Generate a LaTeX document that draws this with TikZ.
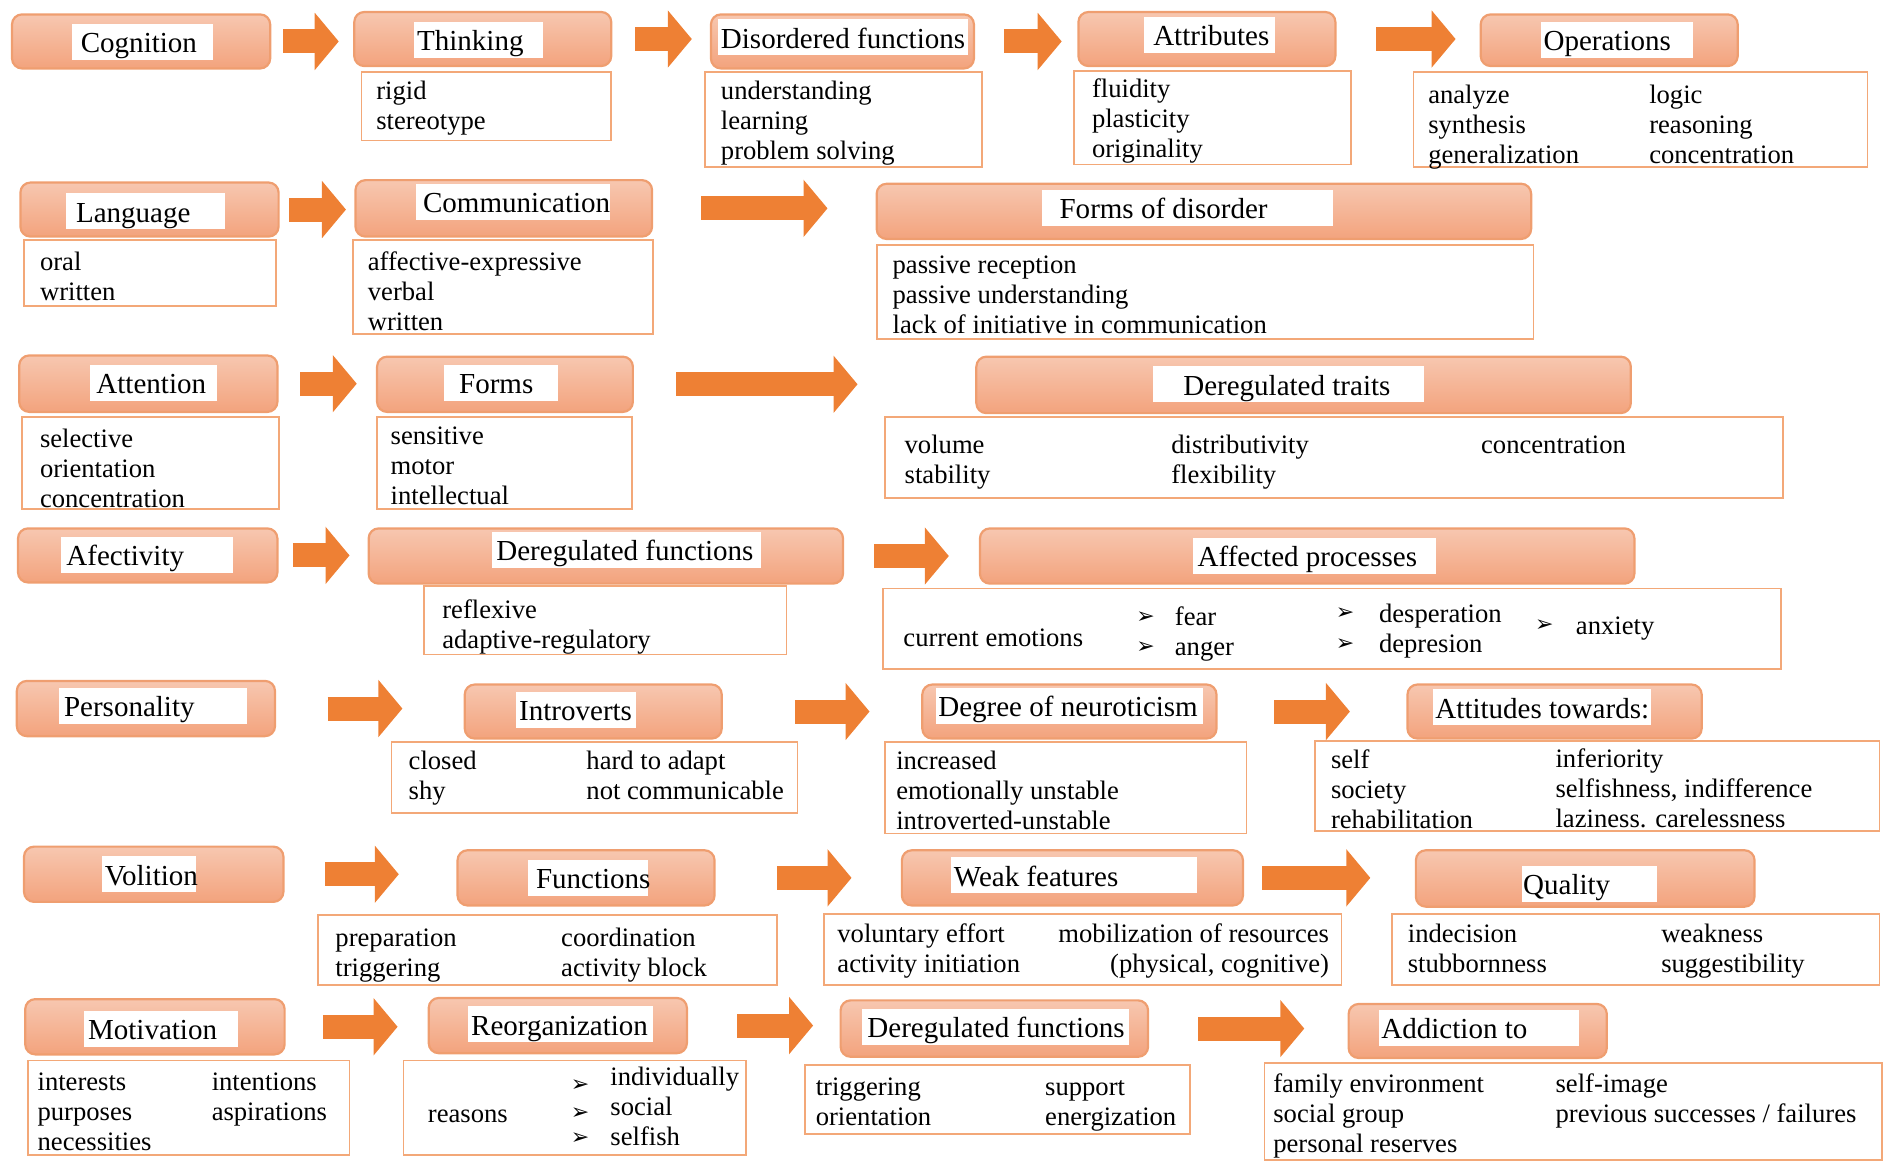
\documentclass[tikz,border=0pt]{standalone}
\usepackage{fontspec}
\setmainfont{Liberation Serif}
\newfontfamily\symfont{DejaVu Sans}
\usetikzlibrary{arrows.meta, calc, fit, positioning}
\definecolor{hdrtop}{RGB}{247,199,176}
\definecolor{hdrbot}{RGB}{243,163,125}
\definecolor{hdrline}{RGB}{239,158,112}
\definecolor{boxline}{RGB}{243,168,120}
\definecolor{arrfill}{RGB}{238,128,52}

\begin{document}
\begin{tikzpicture}[x=0.6pt, y=-0.6pt,
    hdr/.style={draw=hdrline, line width=1.1pt, rounded corners=5pt, top color=hdrtop, bottom color=hdrbot, inner sep=0pt},
    lbl/.style={fill=white, inner sep=0pt},
    htxt/.style={anchor=base west, inner sep=0pt, font=\fontsize{14.5}{16}\selectfont},
    box/.style={draw=boxline, line width=0.9pt, inner sep=0pt},
    txt/.style={anchor=base west, inner sep=0pt, align=left, font=\fontsize{13.3}{15}\selectfont},
    bul/.style={anchor=base west, inner sep=0pt, font=\symfont\fontsize{11}{12}\selectfont},
    blk/.style={draw=arrfill, line width=12pt, -{Triangle[length=12pt, width=28pt]}}]
\useasboundingbox (0,0) rectangle (1568,966);

% cognition
\node[hdr, fit={(10,12) (225,57)}] (cog) {};
\node[lbl, fit={(60,20) (177,50)}] (cogL) {};
\node[htxt] (cogT) at (67,44) {Cognition};
\node[hdr, fit={(295,10) (509,55)}] (thk) {};
\node[lbl, fit={(345,18) (452,48)}] (thkL) {};
\node[htxt] (thkT) at (347,42) {Thinking};
\node[box, fit={(301,60) (509,117)}] (thkB) {};
\node[txt] (thkD) at (313,108) {rigid\\stereotype};
\node[hdr, fit={(592,12) (811,57)}] (dis) {};
\node[lbl, fit={(598,16) (806,46)}] (disL) {};
\node[htxt] (disT) at (600,40) {Disordered functions};
\node[box, fit={(587,60) (818,139)}] (disB) {};
\node[txt] (disD) at (600,133) {understanding\\learning\\problem solving};
\node[hdr, fit={(898,10) (1112,55)}] (att) {};
\node[lbl, fit={(953,14) (1062,44)}] (attL) {};
\node[htxt] (attT) at (960,38) {Attributes};
\node[box, fit={(894,59) (1125,137)}] (attB) {};
\node[txt] (attD) at (909,131) {fluidity\\plasticity\\originality};
\node[hdr, fit={(1233,12) (1447,55)}] (ops) {};
\node[lbl, fit={(1283,18) (1410,48)}] (opsL) {};
\node[htxt] (opsT) at (1285,42) {Operations};
\node[box, fit={(1177,60) (1555,139)}] (opsB) {};
\node[txt] (opsD) at (1189,136) {analyze\\synthesis\\generalization};
\node[txt] (opsE) at (1373,136) {logic\\reasoning\\concentration};

% language
\node[hdr, fit={(17,152) (232,197)}] (lng) {};
\node[lbl, fit={(55,161) (187,191)}] (lngL) {};
\node[htxt] (lngT) at (63,185) {Language};
\node[box, fit={(20,200) (230,255)}] (lngB) {};
\node[txt] (lngD) at (33,250) {oral\\written};
\node[hdr, fit={(296,150) (543,197)}] (com) {};
\node[lbl, fit={(346,153) (508,183)}] (comL) {};
\node[htxt] (comT) at (352,177) {Communication};
\node[box, fit={(294,200) (544,278)}] (comB) {};
\node[txt] (comD) at (306,275) {affective-expressive\\verbal\\written};
\node[hdr, fit={(730,153) (1275,199)}] (fod) {};
\node[lbl, fit={(868,158) (1110,188)}] (fodL) {};
\node[htxt] (fodT) at (882,182) {Forms of disorder};
\node[box, fit={(730,204) (1277,282)}] (fodB) {};
\node[txt] (fodD) at (743,278) {passive reception\\passive understanding\\lack of initiative in communication};

% attention
\node[hdr, fit={(16,296) (231,343)}] (atn) {};
\node[lbl, fit={(75,304) (181,334)}] (atnL) {};
\node[htxt] (atnT) at (80,328) {Attention};
\node[box, fit={(18,347) (232,424)}] (atnB) {};
\node[txt] (atnD) at (33,423) {selective\\orientation\\concentration};
\node[hdr, fit={(314,297) (527,343)}] (frm) {};
\node[lbl, fit={(370,304) (465,334)}] (frmL) {};
\node[htxt] (frmT) at (382,328) {Forms};
\node[box, fit={(314,347) (526,424)}] (frmB) {};
\node[txt] (frmD) at (325,420) {sensitive\\motor\\intellectual};
\node[hdr, fit={(813,297) (1358,344)}] (drt) {};
\node[lbl, fit={(960,305) (1186,335)}] (drtL) {};
\node[htxt] (drtT) at (985,329) {Deregulated traits};
\node[box, fit={(737,347) (1485,415)}] (drtB) {};
\node[txt] (drtD) at (753,403) {volume\\stability};
\node[txt] (drtE) at (975,403) {distributivity\\flexibility};
\node[txt] (drtF) at (1233,378) {concentration};

% affectivity
\node[hdr, fit={(15,440) (231,485)}] (afc) {};
\node[lbl, fit={(51,447) (194,477)}] (afcL) {};
\node[htxt] (afcT) at (55,471) {Afectivity};
\node[hdr, fit={(307,440) (702,486)}] (dfn) {};
\node[lbl, fit={(410,443) (634,473)}] (dfnL) {};
\node[htxt] (dfnT) at (413,467) {Deregulated functions};
\node[box, fit={(353,488) (655,545)}] (dfnB) {};
\node[txt] (dfnD) at (368,540) {reflexive\\adaptive-regulatory};
\node[hdr, fit={(816,440) (1361,486)}] (afp) {};
\node[lbl, fit={(993,448) (1196,478)}] (afpL) {};
\node[htxt] (afpT) at (997,472) {Affected processes};
\node[box, fit={(735,490) (1483,557)}] (afpB) {};
\node[txt] (afpD) at (752,538) {current emotions};
\node[bul] (afpB1) at (946,519) {➢};
\node[bul] (afpB2) at (946,544) {➢};
\node[txt] (afpE) at (978,546) {fear\\anger};
\node[bul] (afpB3) at (1112,516) {➢};
\node[bul] (afpB4) at (1112,542) {➢};
\node[txt] (afpF) at (1148,543) {desperation\\depresion};
\node[bul] (afpB5) at (1278,526) {➢};
\node[txt] (afpG) at (1312,528) {anxiety};

% personality
\node[hdr, fit={(14,567) (229,613)}] (per) {};
\node[lbl, fit={(49,573) (206,603)}] (perL) {};
\node[htxt] (perT) at (53,597) {Personality};
\node[hdr, fit={(387,570) (601,615)}] (int) {};
\node[lbl, fit={(430,576) (530,606)}] (intL) {};
\node[htxt] (intT) at (432,600) {Introverts};
\node[box, fit={(326,618) (664,677)}] (intB) {};
\node[txt] (intD) at (340,666) {closed\\shy};
\node[txt] (intE) at (488,666) {hard to adapt\\not communicable};
\node[hdr, fit={(768,570) (1013,615)}] (neu) {};
\node[lbl, fit={(779,573) (1002,603)}] (neuL) {};
\node[htxt] (neuT) at (781,597) {Degree of neuroticism};
\node[box, fit={(737,618) (1038,694)}] (neuB) {};
\node[txt] (neuD) at (746,691) {increased\\emotionally unstable\\introverted-unstable};
\node[hdr, fit={(1172,570) (1417,615)}] (atw) {};
\node[lbl, fit={(1193,574) (1375,604)}] (atwL) {};
\node[htxt] (atwT) at (1195,598) {Attitudes towards:};
\node[box, fit={(1095,617) (1565,692)}] (atwB) {};
\node[txt] (atwD) at (1108,690) {self\\society\\rehabilitation};
\node[txt] (atwE) at (1295,689) {inferiority\\selfishness, indifference\\laziness. carelessness};

% volition
\node[hdr, fit={(20,705) (236,751)}] (vol) {};
\node[lbl, fit={(85,713) (163,743)}] (volL) {};
\node[htxt] (volT) at (87,737) {Volition};
\node[hdr, fit={(381,708) (595,754)}] (fnc) {};
\node[lbl, fit={(440,716) (540,746)}] (fncL) {};
\node[htxt] (fncT) at (446,740) {Functions};
\node[box, fit={(265,762) (647,820)}] (fncB) {};
\node[txt] (fncD) at (279,813) {preparation\\triggering};
\node[txt] (fncE) at (467,813) {coordination\\activity block};
\node[hdr, fit={(751,708) (1035,754)}] (wkf) {};
\node[lbl, fit={(792,714) (997,744)}] (wkfL) {};
\node[htxt] (wkfT) at (794,738) {Weak features};
\node[box, fit={(686,761) (1117,820)}] (wkfB) {};
\node[txt] (wkfD) at (697,810) {voluntary effort\\activity initiation};
\node[txt, anchor=base east, align=right] (wkfE) at (1107,810) {mobilization of resources\\(physical, cognitive)};
\node[hdr, fit={(1179,708) (1461,755)}] (qua) {};
\node[lbl, fit={(1267,721) (1380,751)}] (quaL) {};
\node[htxt] (quaT) at (1268,745) {Quality};
\node[box, fit={(1159,761) (1565,820)}] (quaB) {};
\node[txt] (quaD) at (1172,810) {indecision\\stubbornness};
\node[txt] (quaE) at (1383,810) {weakness\\suggestibility};

% motivation
\node[hdr, fit={(21,832) (237,878)}] (mot) {};
\node[lbl, fit={(70,842) (198,872)}] (motL) {};
\node[htxt] (motT) at (73,866) {Motivation};
\node[box, fit={(23,883) (291,962)}] (motB) {};
\node[txt] (motD) at (31,958) {interests\\purposes\\necessities};
\node[txt] (motE) at (176,933) {intentions\\aspirations};
\node[hdr, fit={(357,831) (572,877)}] (reo) {};
\node[lbl, fit={(390,838) (544,868)}] (reoL) {};
\node[htxt] (reoT) at (392,862) {Reorganization};
\node[box, fit={(336,883) (621,962)}] (reoB) {};
\node[txt] (reoD) at (356,935) {reasons};
\node[bul] (reoB1) at (475,909) {➢};
\node[bul] (reoB2) at (475,932) {➢};
\node[bul] (reoB3) at (475,953) {➢};
\node[txt] (reoE) at (508,954) {individually\\social\\selfish};
\node[hdr, fit={(700,833) (956,880)}] (dfm) {};
\node[lbl, fit={(718,840) (940,870)}] (dfmL) {};
\node[htxt] (dfmT) at (722,864) {Deregulated functions};
\node[box, fit={(670,887) (991,944)}] (dfmB) {};
\node[txt] (dfmD) at (679,937) {triggering\\orientation};
\node[txt] (dfmE) at (870,937) {support\\energization};
\node[hdr, fit={(1123,836) (1338,881)}] (add) {};
\node[lbl, fit={(1148,841) (1315,871)}] (addL) {};
\node[htxt] (addT) at (1150,865) {Addiction to};
\node[box, fit={(1053,885) (1567,966)}] (addB) {};
\node[txt] (addD) at (1060,960) {family environment\\social group\\personal reserves};
\node[txt] (addE) at (1295,935) {self-image\\previous successes / failures};

% arrows
\draw[blk] ($(cog.east)+(10,0)$) -- ($(cog.east -| thk.west)+(-12,0)$);
\draw[blk] ($(thk.east)+(19,0)$) -- ($(thk.east -| dis.west)+(-15,0)$);
\draw[blk] ($(dis.east)+(24,0)$) -- ($(dis.east -| att.west)+(-13,0)$);
\draw[blk] ($(att.east)+(33,0)$) -- ($(att.east -| ops.west)+(-20,0)$);
\draw[blk] ($(lng.east)+(8,0)$) -- ($(lng.east -| com.west)+(-7,0)$);
\draw[blk] ($(com.east)+(40,0)$) -- ($(com.east -| fod.west)+(-40,0)$);
\draw[blk] ($(atn.east)+(18,0)$) -- ($(atn.east -| frm.west)+(-16,0)$);
\draw[blk] ($(frm.east)+(35,0)$) -- ($(frm.east -| drt.west)+(-98,0)$);
\draw[blk] ($(afc.east)+(12,0)$) -- ($(afc.east -| dfn.west)+(-15,0)$);
\draw[blk] ($(dfn.east)+(25,0)$) -- ($(dfn.east -| afp.west)+(-25,0)$);
\draw[blk] ($(per.east)+(43,0)$) -- ($(per.east -| int.west)+(-51,0)$);
\draw[blk] ($(int.east)+(60,0)$) -- ($(int.east -| neu.west)+(-43,0)$);
\draw[blk] ($(neu.east)+(47,0)$) -- ($(neu.east -| atw.west)+(-47,0)$);
\draw[blk] ($(vol.east)+(34,0)$) -- ($(vol.east -| fnc.west)+(-48,0)$);
\draw[blk] ($(fnc.east)+(51,0)$) -- ($(fnc.east -| wkf.west)+(-41,0)$);
\draw[blk] ($(wkf.east)+(15,0)$) -- ($(wkf.east -| qua.west)+(-37,0)$);
\draw[blk] ($(mot.east)+(31,0)$) -- ($(mot.east -| reo.west)+(-25,0)$);
\draw[blk] ($(reo.east)+(41,0)$) -- ($(reo.east -| dfm.west)+(-22,0)$);
\draw[blk] ($(dfm.east)+(41,0)$) -- ($(dfm.east -| add.west)+(-36,0)$);
\end{tikzpicture}
\end{document}
